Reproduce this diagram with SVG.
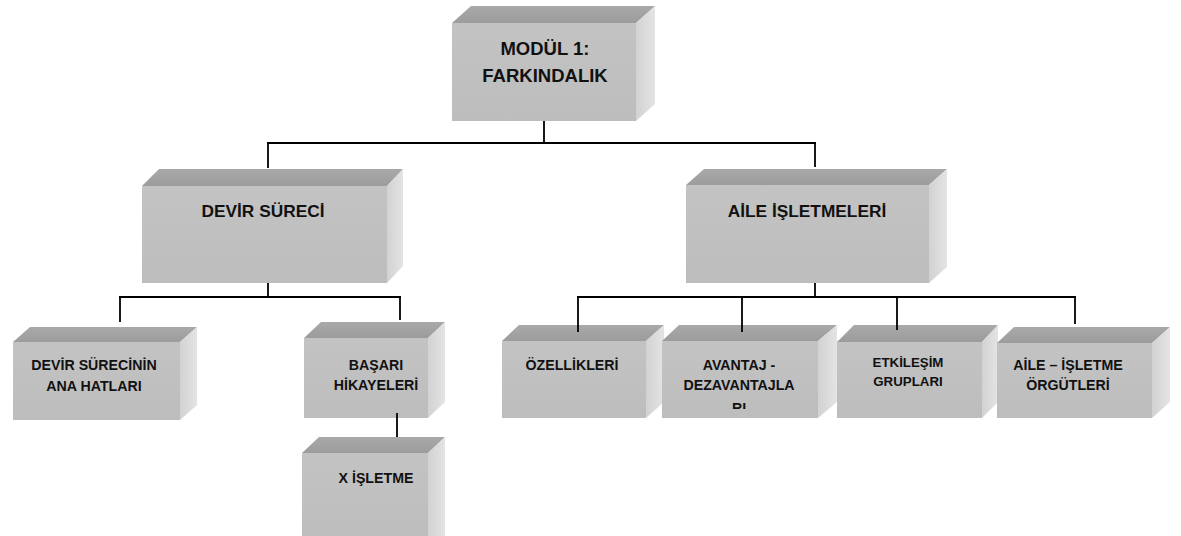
<svg xmlns="http://www.w3.org/2000/svg" width="1181" height="536" viewBox="0 0 1181 536">
  <defs>
    <linearGradient id="gTop" x1="0" y1="1" x2="0" y2="0">
      <stop offset="0" stop-color="#9c9c9c"/>
      <stop offset="1" stop-color="#a9a9a9"/>
    </linearGradient>
    <linearGradient id="gFront" x1="0" y1="0" x2="0" y2="1">
      <stop offset="0" stop-color="#c3c3c3"/>
      <stop offset="1" stop-color="#bdbdbd"/>
    </linearGradient>
    <linearGradient id="gSide" x1="0" y1="0" x2="1" y2="0">
      <stop offset="0" stop-color="#d2d2d2"/>
      <stop offset="1" stop-color="#e4e4e4"/>
    </linearGradient>
    <clipPath id="clipAvantaj">
      <rect x="662" y="341" width="156" height="68"/>
    </clipPath>
  </defs>
  <style>
    .top { fill: url(#gTop); }
    .front { fill: url(#gFront); }
    .side { fill: url(#gSide); }
    .lbl { font-family: "Liberation Sans", Arial, sans-serif; font-weight: bold; fill: #111; text-anchor: middle; }
    .big { font-size: 18.5px; }
    .mid { font-size: 17.3px; }
    .sm { font-size: 14.2px; }
    .xs { font-size: 13.3px; }
    .conn line { stroke: #000; stroke-width: 1.8; }
  </style>

  <!-- Level 0 -->
  <g id="node-modul">
    <polygon class="top" points="452,23 471,6 655,6 636,23"/>
    <polygon class="side" points="636,23 655,6 655,104 636,121"/>
    <rect class="front" x="452" y="23" width="184" height="98"/>
    <text class="lbl big" x="545" y="55">MODÜL 1:</text>
    <text class="lbl big" x="545" y="82">FARKINDALIK</text>
  </g>

  <!-- Level 1 -->
  <g id="node-devir">
    <polygon class="top" points="142,186 159,169 403,169 387,186"/>
    <polygon class="side" points="387,186 403,169 403,266 387,283"/>
    <rect class="front" x="142" y="186" width="245" height="97"/>
    <text class="lbl mid" x="263" y="217">DEVİR SÜRECİ</text>
  </g>

  <g id="node-aile">
    <polygon class="top" points="686,185 704,169 947,169 929,185"/>
    <polygon class="side" points="929,185 947,169 947,267 929,283"/>
    <rect class="front" x="686" y="185" width="243" height="98"/>
    <text class="lbl mid" x="807" y="217">AİLE İŞLETMELERİ</text>
  </g>

  <!-- Level 2, left branch -->
  <g id="node-anahatlar">
    <polygon class="top" points="13,342 30,327 197,327 180,342"/>
    <polygon class="side" points="180,342 197,327 197,405 180,420"/>
    <rect class="front" x="13" y="342" width="167" height="78"/>
    <text class="lbl sm" x="94" y="370">DEVİR SÜRECİNİN</text>
    <text class="lbl sm" x="94" y="391">ANA HATLARI</text>
  </g>

  <g id="node-basari">
    <polygon class="top" points="304,338 321,322 445,322 428,338"/>
    <polygon class="side" points="428,338 445,322 445,402 428,418"/>
    <rect class="front" x="304" y="338" width="124" height="80"/>
    <text class="lbl sm" x="376" y="370">BAŞARI</text>
    <text class="lbl sm" x="376" y="390">HİKAYELERİ</text>
  </g>

  <g id="node-xisletme">
    <polygon class="top" points="302,453 319,437 445,437 428,453"/>
    <polygon class="side" points="428,453 445,437 445,540 428,540"/>
    <rect class="front" x="302" y="453" width="126" height="87"/>
    <text class="lbl sm" x="376" y="483">X İŞLETME</text>
  </g>

  <!-- Level 2, right branch -->
  <g id="node-ozellikler">
    <polygon class="top" points="502,341 519,325 664,325 646,341"/>
    <polygon class="side" points="646,341 664,325 664,402 646,418"/>
    <rect class="front" x="502" y="341" width="144" height="77"/>
    <text class="lbl sm" x="572" y="370">ÖZELLİKLERİ</text>
  </g>

  <g id="node-avantaj">
    <polygon class="top" points="662,341 679,325 837,325 818,341"/>
    <polygon class="side" points="818,341 837,325 837,402 818,418"/>
    <rect class="front" x="662" y="341" width="156" height="77"/>
    <text class="lbl sm" x="739" y="370">AVANTAJ -</text>
    <text class="lbl sm" x="739" y="390">DEZAVANTAJLA</text>
    <!-- third line of the label overflows the text area and is cut off -->
    <text class="lbl sm" x="739" y="413" clip-path="url(#clipAvantaj)">RI</text>
  </g>

  <g id="node-etkilesim">
    <polygon class="top" points="837,342 854,325 998,325 982,342"/>
    <polygon class="side" points="982,342 998,325 998,402 982,418"/>
    <rect class="front" x="837" y="342" width="145" height="76"/>
    <text class="lbl xs" x="908" y="367">ETKİLEŞİM</text>
    <text class="lbl xs" x="908" y="386">GRUPLARI</text>
  </g>

  <g id="node-orgutler">
    <polygon class="top" points="997,343 1014,327 1170,327 1152,343"/>
    <polygon class="side" points="1152,343 1170,327 1170,402 1152,418"/>
    <rect class="front" x="997" y="343" width="155" height="75"/>
    <text class="lbl sm" x="1068" y="370">AİLE – İŞLETME</text>
    <text class="lbl sm" x="1068" y="390">ÖRGÜTLERİ</text>
  </g>

  <!-- Connectors -->
  <g id="connectors" class="conn">
    <line x1="544" y1="121" x2="544" y2="143"/>
    <line x1="267" y1="143" x2="816" y2="143"/>
    <line x1="268" y1="143" x2="268" y2="168"/>
    <line x1="815" y1="143" x2="815" y2="167"/>

    <line x1="268" y1="283" x2="268" y2="297"/>
    <line x1="119" y1="297" x2="401" y2="297"/>
    <line x1="120" y1="297" x2="120" y2="322"/>
    <line x1="400" y1="297" x2="400" y2="320"/>
    <line x1="397" y1="413" x2="397" y2="437"/>

    <line x1="815" y1="283" x2="815" y2="297"/>
    <line x1="577" y1="297" x2="1076" y2="297"/>
    <line x1="578" y1="297" x2="578" y2="332"/>
    <line x1="742" y1="297" x2="742" y2="332"/>
    <line x1="897" y1="297" x2="897" y2="330"/>
    <line x1="1075" y1="297" x2="1075" y2="324"/>
  </g>
</svg>
